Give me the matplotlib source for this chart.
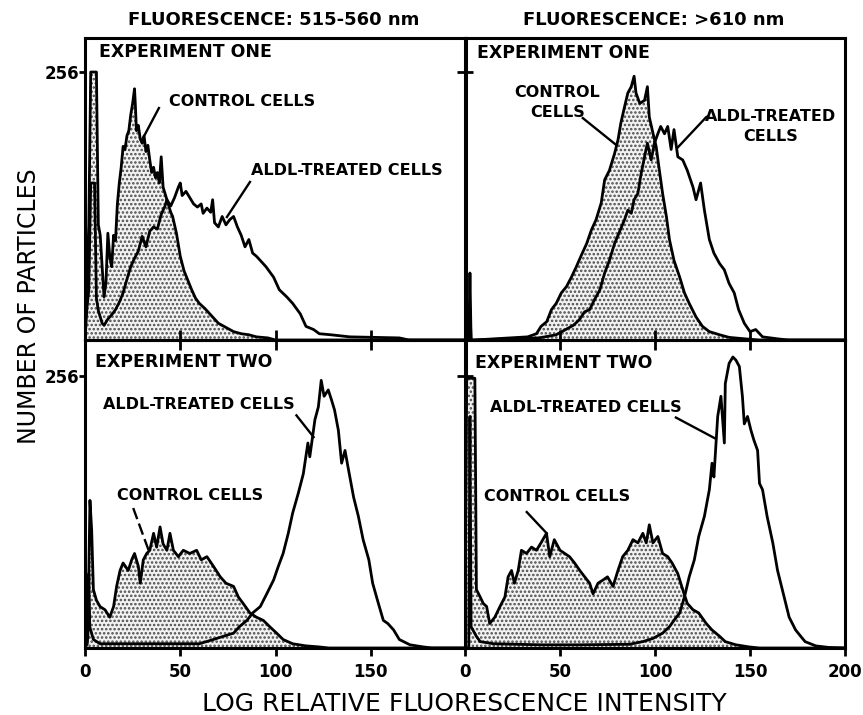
import numpy as np
import matplotlib
matplotlib.use("Agg")
import matplotlib.pyplot as plt

# column titles, axis labels
col_titles = ["FLUORESCENCE: 515-560 nm", "FLUORESCENCE: >610 nm"]
row_titles = ["EXPERIMENT ONE", "EXPERIMENT TWO"]
xlabel = "LOG RELATIVE FLUORESCENCE INTENSITY"
ylabel = "NUMBER OF PARTICLES"

# ---- experiment one, 515-560 nm ----
e1g_ctrl_x = [0, 1, 2, 3, 6, 7, 8, 9, 10, 11, 12, 13, 14, 15, 16, 17, 18, 19, 20, 21, 22, 23, 24, 25, 26,
              26.5, 27, 28, 29, 30, 31, 32, 33, 34, 35, 36, 37, 38, 39, 40, 41, 42, 43, 44, 45, 46, 47, 48,
              50, 52, 54, 56, 58, 60, 63, 66, 70, 74, 78, 82, 86, 90, 96, 100, 200]
e1g_ctrl_y = [0, 60, 110, 256, 256, 110, 100, 70, 41, 55, 102, 80, 70, 100, 95, 130, 150, 165, 185, 182,
              195, 200, 215, 226, 240, 222, 200, 205, 192, 188, 195, 180, 186, 172, 160, 165, 155, 160,
              150, 175, 146, 140, 134, 128, 122, 118, 110, 102, 80, 66, 57, 48, 40, 35, 30, 24, 16, 12,
              8, 6, 5, 3, 2, 0, 0]
e1g_aldl_x = [0, 1, 2, 3, 5, 6, 7, 8, 9, 10, 12, 14, 16, 18, 20, 22, 24, 26, 28, 30, 32, 34, 36, 38, 40,
              42, 43, 45, 47, 49, 50, 51, 53, 55, 57, 59, 61, 62, 64, 66, 67, 68, 70, 72, 74, 76, 78, 80,
              82, 84, 86, 88, 90, 92, 95, 99, 102, 106, 109, 113, 116, 120, 123, 129, 139, 165, 170, 200]
e1g_aldl_y = [0, 30, 48, 150, 150, 40, 28, 22, 16, 14, 20, 24, 29, 36, 45, 58, 70, 78, 85, 99, 89, 104,
              108, 106, 120, 128, 134, 128, 136, 146, 150, 138, 142, 136, 130, 127, 130, 121, 126, 122,
              134, 112, 108, 118, 110, 115, 118, 108, 100, 89, 96, 83, 80, 76, 70, 60, 48, 41, 35, 25,
              13, 10, 6, 5, 3, 2, 0, 0]

# ---- experiment one, >610 nm ----
e1r_ctrl_x = [0, 2, 2.6, 3.2, 5, 33, 37.6, 40, 43, 45.5, 48, 50.7, 53.4, 56, 58.6, 61, 64, 66.5, 69, 71.7,
              73.5, 76, 78.7, 80.5, 82, 84, 85.7, 87.5, 89, 90, 92, 94.5, 96, 97, 99, 100.6, 102, 104,
              106, 107.6, 110, 113, 115.5, 118, 121.6, 125, 128.6, 134, 139, 148, 155, 200]
e1r_ctrl_y = [0, 0, 64, 0, 0, 3, 6, 13, 17.5, 29, 35, 45, 51, 60, 70, 80, 92, 105, 115, 131, 153, 162,
              178, 191, 207, 223, 236, 242, 252, 236, 226, 229, 242, 213, 197, 185, 166, 140, 118, 96,
              76, 60, 45, 35, 22, 13, 8, 5, 2.5, 1, 0, 0]
e1r_aldl_x = [0, 2, 2.6, 3.2, 5, 39, 48, 53, 57, 60, 63, 65.6, 68, 71, 73.5, 76, 78.7, 81, 84, 85.7, 87.5,
              89, 91, 92.7, 94.5, 96, 98, 99.7, 101.5, 103, 105, 106.7, 108.5, 110, 112, 114.6, 117, 120,
              121.6, 124, 126, 128.6, 131, 134, 136.5, 139, 141.7, 144, 147, 150, 153, 156.6, 165, 170,
              200]
e1r_aldl_y = [0, 0, 30, 0, 0, 2, 5, 10, 14, 19, 27, 29, 38, 48, 64, 76, 92, 102, 115, 124, 121, 134, 140,
              159, 175, 188, 172, 188, 197, 204, 197, 204, 182, 201, 175, 172, 162, 146, 134, 150, 124,
              96, 83, 73, 67, 54, 45, 29, 16, 8, 10, 3, 1, 0, 0]

# ---- experiment two, 515-560 nm ----
e2g_ctrl_x = [0, 1.2, 2, 2.6, 3.5, 4.4, 6, 7.9, 10.5, 13, 15, 16.6, 18.4, 20, 22.7, 24.5, 26, 28, 29,
              30.6, 32.4, 34, 36, 37.6, 39.4, 41, 43, 44.6, 46.4, 49, 51.6, 55, 58.6, 61, 64, 67.4, 71,
              74, 78, 80.5, 83, 86.6, 90, 93.6, 97, 100.6, 104, 109, 116, 123, 128, 200]
e2g_ctrl_y = [0, 4, 70, 139, 111, 55, 45, 39, 36, 29, 39, 58, 73, 80, 73, 83, 89, 77, 61, 83, 89, 92,
              108, 95, 114, 98, 92, 108, 92, 86, 92, 89, 92, 83, 86, 77, 67, 61, 58, 48, 42, 33, 29, 26,
              20, 14, 8, 4, 2, 1, 0, 0]
e2g_aldl_x = [0, 1.5, 2, 2.5, 4.4, 7.9, 30, 50, 60, 67.4, 72.6, 78, 81, 85, 88, 92, 95.4, 99, 101.5, 104,
              106.7, 109, 112, 114.6, 117, 118, 120.7, 122.5, 124, 125.5, 127.7, 129.5, 131, 133, 134.7,
              136.5, 138, 141, 143.5, 146, 149, 151, 154, 156.6, 159, 162, 165, 170.6, 177.6, 182, 200]
e2g_aldl_y = [0, 10, 70, 20, 8, 4, 4, 4, 4, 8, 11, 14, 20, 26, 33, 39, 51, 64, 77, 89, 108, 127, 146,
              164, 193, 180, 215, 227, 252, 237, 243, 233, 224, 205, 174, 186, 171, 142, 124, 102, 83,
              61, 42, 26, 23, 17, 8, 3, 1, 0, 0]

# ---- experiment two, >610 nm ----
e2r_ctrl_x = [0, 0.9, 5.2, 6, 8, 9.6, 11.4, 13, 15.7, 18.4, 21, 22.7, 24.5, 26, 28, 29.7, 32.4, 35, 37.6,
              40, 42.9, 44.6, 47, 50, 52.5, 55, 57.7, 60.4, 63, 65.6, 67.4, 70, 72.6, 75, 77.9, 80.5, 83,
              85.7, 88.4, 91, 93.6, 95.4, 97, 98.9, 101.5, 104, 106.7, 109, 112, 114.6, 117, 120, 123,
              127, 130, 134, 137, 142.6, 149.6, 155, 200]
e2r_ctrl_y = [0, 254, 254, 55, 48, 42, 39, 23, 29, 39, 48, 67, 73, 61, 73, 92, 89, 95, 92, 99, 108, 86,
              102, 92, 89, 86, 80, 73, 67, 61, 51, 61, 64, 67, 58, 73, 86, 92, 102, 99, 108, 99, 116,
              99, 105, 89, 86, 80, 70, 55, 42, 36, 33, 23, 17, 11, 6, 3, 1, 0, 0]
e2r_aldl_x = [0, 2, 2.6, 3.2, 6, 8, 15, 40, 60, 86.6, 93.6, 98.9, 104, 107.6, 110, 113, 115.5, 118,
              120.7, 123, 126, 128.6, 130, 131, 133, 134.7, 136.5, 137, 139, 141, 142.6, 144.4, 146, 147,
              148.7, 150.5, 152, 154, 155, 156.6, 159, 162, 164.5, 167, 170.6, 174, 176.7, 179, 184.6,
              191.6, 200]
e2r_aldl_y = [0, 0, 218, 20, 11, 6, 4, 3, 3, 3.5, 6, 9, 14, 20, 26, 33, 48, 67, 83, 105, 124, 149, 174,
              161, 218, 237, 193, 249, 268, 274, 271, 265, 237, 211, 218, 205, 196, 186, 155, 149, 124,
              99, 73, 55, 29, 17, 11, 6, 2, 0.5, 0]

ytick = [256]
xticks_left = [0, 50, 100, 150]
xticks_right = [0, 50, 100, 150, 200]

W, H = 863, 715


def px_axes(fig, x0, y0, x1, y1):
    # pixel box (top-left origin) -> axes
    return fig.add_axes([x0 / W, 1 - y1 / H, (x1 - x0) / W, (y1 - y0) / H])


def draw_hist(ax, cx, cy, ax_x, ax_y, ytop):
    ax.fill_between(cx, cy, 0, facecolor="#f2f2f2", edgecolor="#4a4a4a", hatch="....",
                    linewidth=0, zorder=1)
    ax.plot(cx, cy, color="black", lw=2.0, zorder=3)
    ax.plot(ax_x, ax_y, color="black", lw=2.0, zorder=3)
    ax.set_xlim(0, 200)
    ax.set_ylim(0, ytop)
    ax.set_facecolor("none")
    for s in ax.spines.values():
        s.set_linewidth(2.2)


def label(ax, s, x, y, size=11.5, ha="left"):
    ax.text(x, y, s, fontsize=size, fontweight="bold", ha=ha, va="center", zorder=5,
            linespacing=1.45)


def leader(ax, x0, y0, x1, y1, ls="-"):
    ax.plot([x0, x1], [y0, y1], color="black", lw=1.7, ls=ls, zorder=5)


def main():
    plt.rcParams["font.family"] = ["DejaVu Sans"]
    plt.rcParams["hatch.linewidth"] = 1.2
    fig = plt.figure(figsize=(W / 100, H / 100), dpi=100)

    tl = px_axes(fig, 85, 38, 466, 340)
    tr = px_axes(fig, 465, 38, 845, 340)
    bl = px_axes(fig, 85, 340, 466, 648)
    br = px_axes(fig, 465, 340, 845, 648)

    draw_hist(tl, e1g_ctrl_x, e1g_ctrl_y, e1g_aldl_x, e1g_aldl_y, 288.5)
    draw_hist(tr, e1r_ctrl_x, e1r_ctrl_y, e1r_aldl_x, e1r_aldl_y, 288.5)
    draw_hist(bl, e2g_ctrl_x, e2g_ctrl_y, e2g_aldl_x, e2g_aldl_y, 290)
    draw_hist(br, e2r_ctrl_x, e2r_ctrl_y, e2r_aldl_x, e2r_aldl_y, 290)

    # ticks
    for ax in (tl, tr):
        ax.set_xticks([50, 100, 150])
        ax.tick_params(axis="x", direction="inout", length=14, width=2, labelbottom=False)
    bl.set_xticks(xticks_left)
    br.set_xticks(xticks_right)
    for ax in (bl, br):
        ax.tick_params(axis="x", direction="out", length=6, width=2, pad=5, labelsize=12)
        for t in ax.get_xticklabels():
            t.set_fontweight("bold")
    for ax in (tl, bl):
        ax.set_yticks(ytick)
        ax.tick_params(axis="y", direction="out", length=4, width=2, pad=0, labelsize=12)
        for t in ax.get_yticklabels():
            t.set_fontweight("bold")
    for ax in (tr, br):
        ax.set_yticks(ytick)
        ax.tick_params(axis="y", direction="inout", length=12, width=2, labelleft=False)

    # panel labels
    label(tl, row_titles[0], 7.3, 275.5, size=12.5)
    label(tr, row_titles[0], 6.3, 274, size=12.5)
    label(bl, row_titles[1], 5.2, 269.5, size=12.5)
    label(br, row_titles[1], 5.2, 268, size=12.5)

    label(tl, "CONTROL CELLS", 44, 227.6)
    leader(tl, 38.8, 221.6, 29.9, 191)
    label(tl, "ALDL-TREATED CELLS", 87, 162.4)
    leader(tl, 86.6, 151, 74.5, 117.5)

    label(tr, "CONTROL\nCELLS", 48.5, 227, ha="center")
    leader(tr, 62, 212, 79.8, 186)
    label(tr, "ALDL-TREATED\nCELLS", 161, 204, ha="center")
    leader(tr, 127, 213, 112, 184)

    label(bl, "ALDL-TREATED CELLS", 59.6, 229.6, ha="center")
    leader(bl, 111, 219, 120, 198.6)
    label(bl, "CONTROL CELLS", 54.9, 143.3, ha="center")
    leader(bl, 25.3, 131.8, 33.4, 92, ls=(0, (5, 2)))

    label(br, "ALDL-TREATED CELLS", 63.5, 226.8, ha="center")
    leader(br, 111, 217, 132, 197)
    label(br, "CONTROL CELLS", 48.3, 142.4, ha="center")
    leader(br, 32.5, 128, 43, 108)

    # column titles and axis labels
    fig.text(274 / W, 1 - 20 / H, col_titles[0], fontsize=13, fontweight="bold",
             ha="center", va="center")
    fig.text(654 / W, 1 - 20 / H, col_titles[1], fontsize=13, fontweight="bold",
             ha="center", va="center")
    fig.text(29 / W, 1 - 306 / H, ylabel, fontsize=17, rotation=90, ha="center", va="center")
    fig.text(464 / W, 1 - 704 / H, xlabel, fontsize=18, ha="center", va="center")

    fig.savefig("out.png", dpi=100)


if __name__ == "__main__":
    main()
